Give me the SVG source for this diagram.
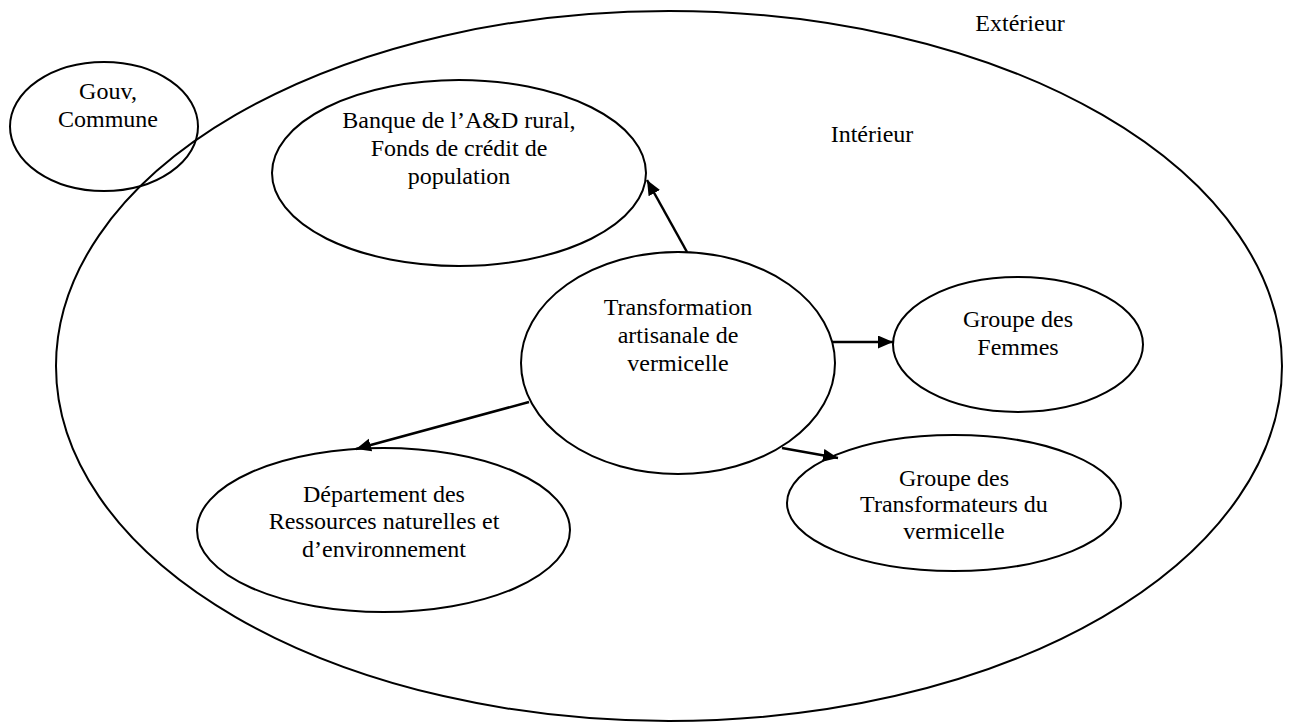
<svg xmlns="http://www.w3.org/2000/svg" width="1290" height="723" viewBox="0 0 1290 723">
<defs>
<style>
.n{fill:none;stroke:#000;stroke-width:2}
.t{font-family:"Liberation Serif","Times New Roman",serif;font-size:24px;fill:#000;text-anchor:middle}
.c{stroke:#000;stroke-width:2.5;fill:none;marker-end:url(#ah)}
</style>
<marker id="ah" markerUnits="userSpaceOnUse" markerWidth="18" markerHeight="14" refX="15" refY="6.5" orient="auto" viewBox="0 0 18 14">
<path d="M0,0 L15,6.5 L0,13 Z" fill="#000"/>
</marker>
</defs>
<rect width="1290" height="723" fill="#fff"/>
<g id="exterieur-label"><text class="t" x="1020" y="31">Extérieur</text></g>
<g id="interieur">
<ellipse class="n" cx="669" cy="366" rx="613" ry="355"/>
<text class="t" x="872" y="142">Intérieur</text>
</g>
<g id="gouv">
<ellipse class="n" cx="104" cy="126.5" rx="94" ry="64.5"/>
<text class="t" x="108" y="99">Gouv,</text>
<text class="t" x="108" y="127">Commune</text>
</g>
<g id="banque">
<ellipse class="n" cx="459" cy="173" rx="187" ry="93"/>
<text class="t" x="459" y="128">Banque de l’A&amp;D rural,</text>
<text class="t" x="459" y="156">Fonds de crédit de</text>
<text class="t" x="459" y="184">population</text>
</g>
<g id="transformation">
<ellipse class="n" cx="678" cy="363" rx="157" ry="111"/>
<text class="t" x="678" y="315">Transformation</text>
<text class="t" x="678" y="343">artisanale de</text>
<text class="t" x="678" y="371">vermicelle</text>
</g>
<g id="femmes">
<ellipse class="n" cx="1018" cy="344.5" rx="125" ry="67.5"/>
<text class="t" x="1018" y="327">Groupe des</text>
<text class="t" x="1018" y="355">Femmes</text>
</g>
<g id="transformateurs">
<ellipse class="n" cx="954" cy="503" rx="167" ry="68"/>
<text class="t" x="954" y="486">Groupe des</text>
<text class="t" x="954" y="512">Transformateurs du</text>
<text class="t" x="954" y="539">vermicelle</text>
</g>
<g id="departement">
<ellipse class="n" cx="383.5" cy="530" rx="186.5" ry="82"/>
<text class="t" x="384" y="502">Département des</text>
<text class="t" x="384" y="529">Ressources naturelles et</text>
<text class="t" x="384" y="557">d’environnement</text>
</g>
<g id="connectors">
<line class="c" x1="687" y1="252" x2="647" y2="180"/>
<line class="c" x1="832" y1="342" x2="893" y2="342"/>
<line class="c" x1="529" y1="402" x2="356" y2="449"/>
<line class="c" x1="782" y1="448" x2="838" y2="458"/>
</g>
</svg>
